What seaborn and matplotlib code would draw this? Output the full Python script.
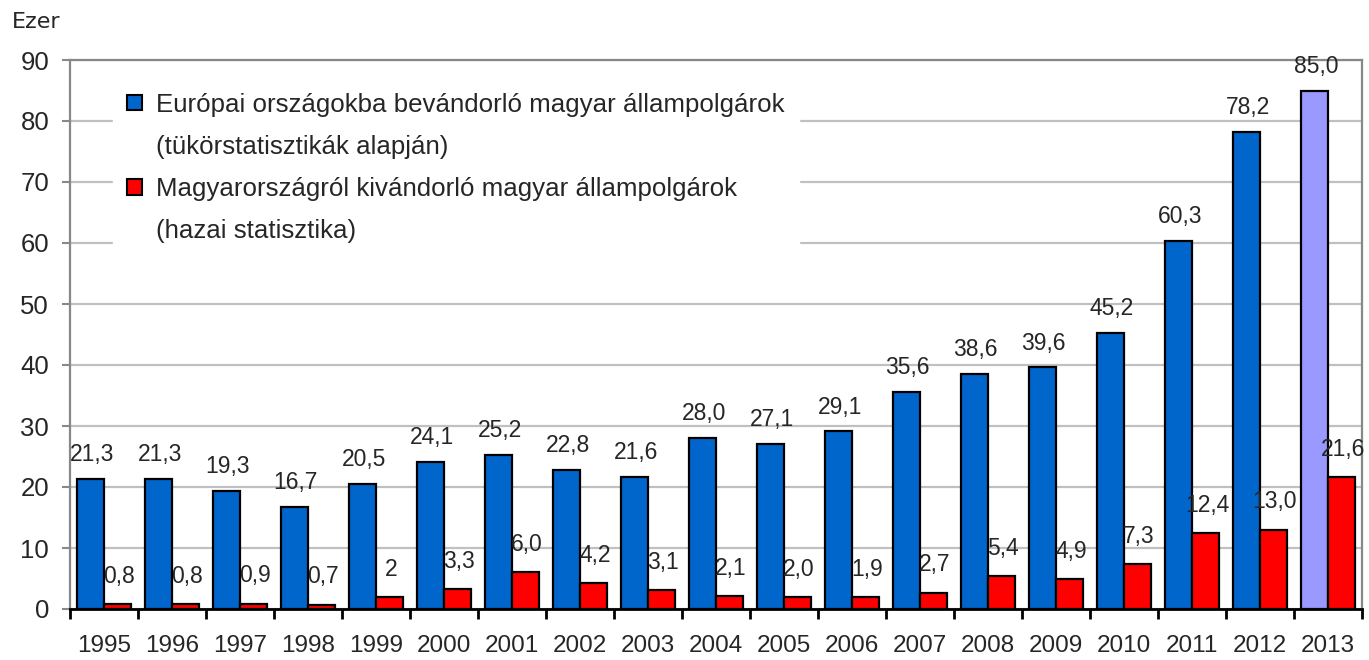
import numpy as np
import pandas as pd
import matplotlib
matplotlib.use('Agg')
import matplotlib.pyplot as plt
from matplotlib.patches import Patch
import seaborn as sns

# Adatok (ezer fő)
evek = ['1995', '1996', '1997', '1998', '1999', '2000', '2001', '2002', '2003', '2004',
        '2005', '2006', '2007', '2008', '2009', '2010', '2011', '2012', '2013']
europai = [21.3, 21.3, 19.3, 16.7, 20.5, 24.1, 25.2, 22.8, 21.6, 28.0,
           27.1, 29.1, 35.6, 38.6, 39.6, 45.2, 60.3, 78.2, 85.0]
hazai = [0.8, 0.8, 0.9, 0.7, 2.0, 3.3, 6.0, 4.2, 3.1, 2.1,
         2.0, 1.9, 2.7, 5.4, 4.9, 7.3, 12.4, 13.0, 21.6]
hazai_cimkek = ['0,8', '0,8', '0,9', '0,7', '2', '3,3', '6,0', '4,2', '3,1', '2,1',
                '2,0', '1,9', '2,7', '5,4', '4,9', '7,3', '12,4', '13,0', '21,6']
sorozat_nevek = ['Európai országokba bevándorló magyar állampolgárok',
                 'Magyarországról kivándorló magyar állampolgárok']
sorozat_alcimek = ['(tükörstatisztikák alapján)', '(hazai statisztika)']

KEK = '#0066CC'
PIROS = '#FF0000'
HALVANY = '#9999FF'

df = pd.DataFrame({
    'ev': evek * 2,
    'ertek': europai + hazai,
    'sorozat': [sorozat_nevek[0]] * len(evek) + [sorozat_nevek[1]] * len(evek),
})

sns.set_style('white')
plt.rcParams['font.family'] = ['Liberation Sans', 'DejaVu Sans']

fig = plt.figure(figsize=(13.69, 6.60), dpi=100)
ax = fig.add_axes([70 / 1369, 51 / 660, 1292 / 1369, 549 / 660])

sns.barplot(data=df, x='ev', y='ertek', hue='sorozat', palette=[KEK, PIROS],
            saturation=1, width=0.8, gap=0, edgecolor='black', linewidth=1.6,
            ax=ax, legend=False, zorder=3)

# 2013-as érték halványabb színnel
ax.containers[0][-1].set_facecolor(HALVANY)

# Értékcímkék
europai_cimkek = [f"{v:.1f}".replace('.', ',') for v in europai]
for cont, cimkek, eltolas in zip(ax.containers, [europai_cimkek, hazai_cimkek], [17.5, 20]):
    for p, c in zip(cont, cimkek):
        ax.annotate(c, (p.get_x() + p.get_width() / 2, p.get_height()),
                    xytext=(1, eltolas), textcoords='offset points', ha='center', va='center',
                    fontsize=16.5, annotation_clip=False)

ax.set_ylim(0, 90)
ax.set_xlim(-0.5, len(evek) - 0.5)
ax.set_yticks(np.arange(0, 91, 10))
ax.set_xlabel('')
ax.set_ylabel('')

ax.grid(axis='y', color='#C0C0C0', lw=1.6)
ax.set_axisbelow(True)

for s in ['left', 'top', 'right']:
    ax.spines[s].set_color('#888888')
    ax.spines[s].set_linewidth(1.6)
ax.spines['bottom'].set_color('black')
ax.spines['bottom'].set_linewidth(2)

ax.tick_params(axis='y', labelsize=18.5, length=6, width=1.5, color='#888888', pad=9, left=True)
ax.set_xticks(range(len(evek)))
ax.set_xticklabels(evek, fontsize=17.5)
ax.tick_params(axis='x', which='major', length=0, pad=19)
ax.set_xticks(np.arange(-0.5, len(evek), 1), minor=True)
ax.tick_params(axis='x', which='minor', length=7, width=2, color='black', bottom=True)

# Jelmagyarázat
ures = Patch(facecolor='none', edgecolor='none')
kezelok = [Patch(facecolor=KEK, edgecolor='black', lw=1.5), ures,
           Patch(facecolor=PIROS, edgecolor='black', lw=1.5), ures]
cimkek = [sorozat_nevek[0], sorozat_alcimek[0], sorozat_nevek[1], sorozat_alcimek[1]]
leg = ax.legend(kezelok, cimkek, loc='upper left', bbox_to_anchor=(0.0333, 0.966),
                fontsize=18.6, frameon=True, facecolor='white', edgecolor='white',
                framealpha=1, fancybox=False, handlelength=0.58, handleheight=0.54,
                handletextpad=0.55, labelspacing=0.7, borderpad=0.55, borderaxespad=0)

fig.text(12 / 1369, 1 - 28 / 660, 'Ezer', fontsize=16, family='DejaVu Sans',
         va='baseline', ha='left')

fig.savefig('out.png', dpi=100)
